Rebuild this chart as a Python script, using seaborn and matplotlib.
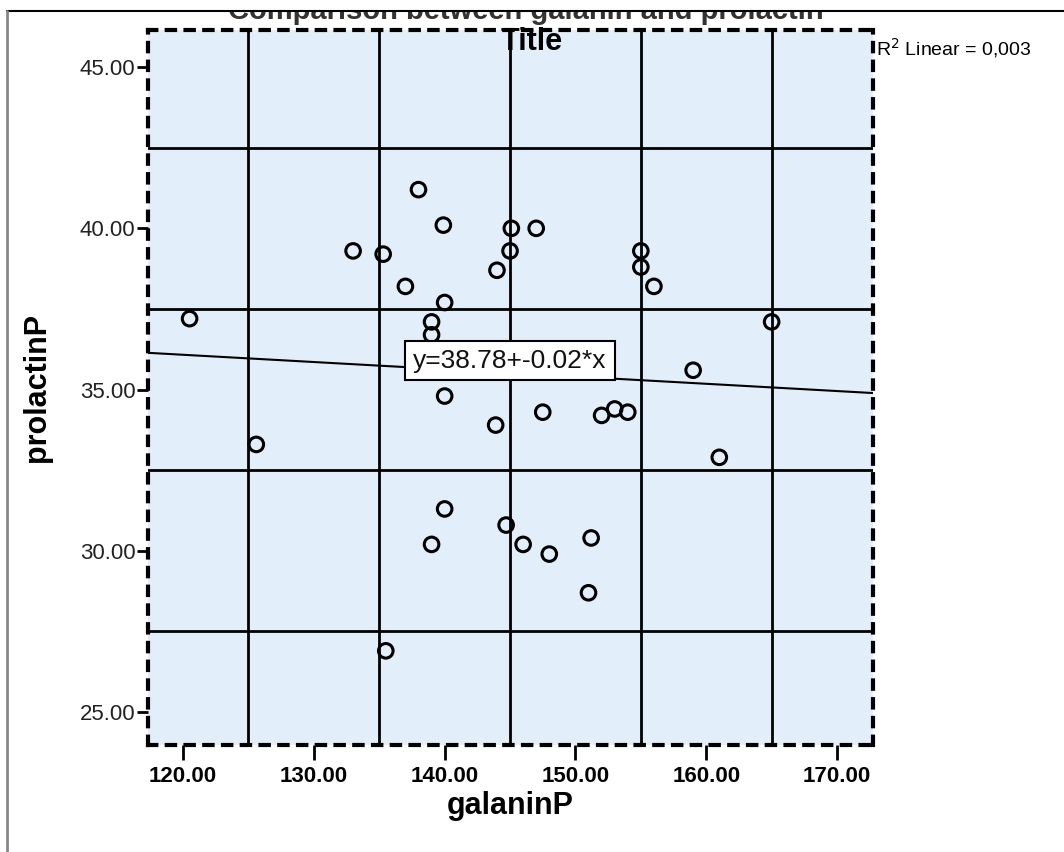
import numpy as np
import pandas as pd
import matplotlib
matplotlib.use("Agg")
import matplotlib.pyplot as plt
import seaborn as sns
from matplotlib.lines import Line2D
from matplotlib.patches import Rectangle

# ---- data ----
galaninP = [120.5, 125.6, 133.0, 135.3, 138.0, 137.0, 139.9, 140.0, 139.0, 139.0,
            140.0, 143.9, 144.0, 145.1, 145.0, 147.0, 147.5, 152.0, 153.0, 154.0,
            155.0, 155.0, 156.0, 159.0, 161.0, 165.0, 140.0, 139.0, 144.7, 146.0,
            148.0, 151.2, 151.0, 135.5, 151.9]
prolactinP = [37.2, 33.3, 39.3, 39.2, 41.2, 38.2, 40.1, 37.7, 37.1, 36.7,
              34.8, 33.9, 38.7, 40.0, 39.3, 40.0, 34.3, 34.2, 34.4, 34.3,
              39.3, 38.8, 38.2, 35.6, 32.9, 37.1, 31.3, 30.2, 30.8, 30.2,
              29.9, 30.4, 28.7, 26.9, 36.25]
fit_intercept = 38.78
fit_slope = -0.0225
x_ticks = [120, 130, 140, 150, 160, 170]
y_ticks = [25, 30, 35, 40, 45]
x_grid = [125, 135, 145, 155, 165]
y_grid = [27.5, 32.5, 37.5, 42.5]
equation_label = "y=38.78+-0.02*x"
r2_label = "R$^2$ Linear = 0,003"
title_main = "Title"
title_cut = "Comparison between galanin and prolactin"

df = pd.DataFrame({"galaninP": galaninP, "prolactinP": prolactinP})

sns.set_theme(style="white")
plt.rcParams["font.family"] = ["Liberation Sans", "DejaVu Sans"]
plt.rcParams["text.color"] = "black"
plt.rcParams["axes.labelcolor"] = "black"
plt.rcParams["xtick.color"] = "black"
plt.rcParams["ytick.color"] = "black"

W, H = 1064, 852
fig = plt.figure(figsize=(W / 100, H / 100), dpi=100)
fig.patch.set_facecolor("white")
ax = fig.add_axes([148 / W, 1 - 745 / H, (873 - 148) / W, (745 - 30) / H])
ax.set_facecolor("#e3eefb")

xlim = (117.32, 172.75)
ylim = (23.98, 46.15)

for g in x_grid:
    ax.axvline(g, color="black", lw=2, zorder=1)
for g in y_grid:
    ax.axhline(g, color="black", lw=2, zorder=1)

xs = np.array(xlim)
ax.plot(xs, fit_intercept + fit_slope * xs, color="black", lw=1.5, zorder=2)

sns.scatterplot(data=df, x="galaninP", y="prolactinP", ax=ax, s=110,
                facecolor="none", edgecolor="black", linewidth=2.2, zorder=3)

ax.text(145.0, 35.9, equation_label, fontsize=19, ha="center", va="center",
        zorder=5, color="#111111",
        bbox=dict(boxstyle="square,pad=0.3", fc="white", ec="black", lw=1.5))

ax.set_xlim(*xlim)
ax.set_ylim(*ylim)
ax.set_xticks(x_ticks)
ax.set_xticklabels([f"{v:.2f}" for v in x_ticks], fontsize=16, fontweight="bold",
                   color="black")
ax.set_yticks(y_ticks)
ax.set_yticklabels([f"{v:.2f}" for v in y_ticks], fontsize=16, color="#222222")
ax.tick_params(axis="x", direction="out", length=11, width=2, color="black",
               bottom=True, pad=4)
ax.tick_params(axis="y", direction="out", length=8, width=2, color="black",
               left=True, pad=1)
ax.set_xlabel("galaninP", fontsize=22, fontweight="bold", labelpad=3, color="black")
ax.set_ylabel("prolactinP", fontsize=22, fontweight="bold", labelpad=20, color="black")

for side, sp in ax.spines.items():
    sp.set_visible(True)
    sp.set_color("black")
    sp.set_linewidth(3)
    sp.set_linestyle((0, (2, 2.5)))
    sp.set_zorder(4)

# titles (the upper one is cropped at the frame edge, as in the reference)
fig.text(526 / W, 1 - 19 / H, title_cut, fontsize=21, fontweight="bold",
         ha="center", va="baseline", color="#333333", zorder=5)
fig.text(532 / W, 1 - 42 / H, title_main, fontsize=22, fontweight="bold",
         ha="center", va="center", color="black", zorder=6)
fig.text(876 / W, 1 - 48 / H, r2_label, fontsize=14, ha="left", va="center",
         color="black", zorder=6)

# crop cover and frame lines
fig.add_artist(Rectangle((0, 1 - 11 / H), 1, 11 / H, transform=fig.transFigure,
                         fc="white", ec="none", zorder=20))
fig.add_artist(Line2D([7 / W, 1], [1 - 11 / H, 1 - 11 / H], transform=fig.transFigure,
                      color="black", lw=1.5, zorder=21))
fig.add_artist(Line2D([7 / W, 7 / W], [0, 1 - 11 / H], transform=fig.transFigure,
                      color="#888888", lw=2, zorder=21))

fig.savefig("out.png", dpi=100)
